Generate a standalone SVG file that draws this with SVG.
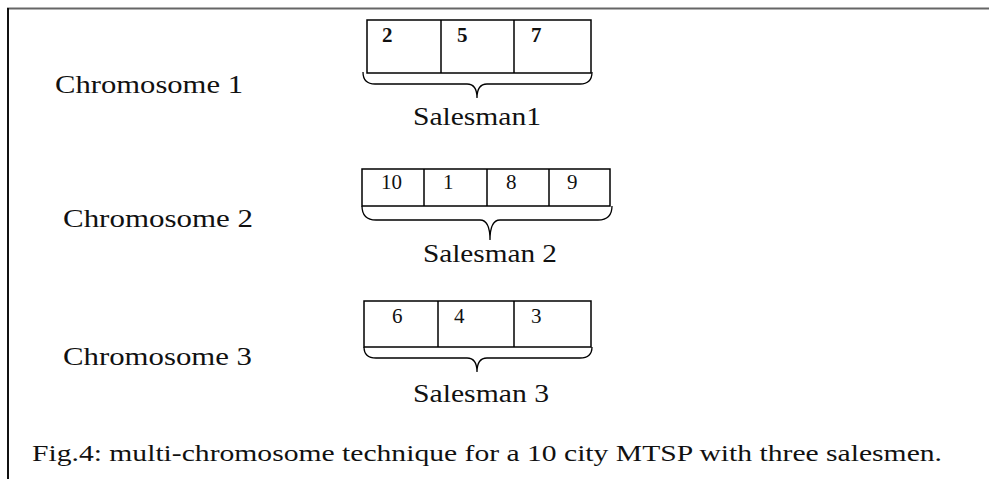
<svg xmlns="http://www.w3.org/2000/svg" width="989" height="479" viewBox="0 0 989 479">
<style>
.t{font-family:"Liberation Serif","Times New Roman",serif;fill:#111}
.lbl{font-size:25px}
.d{font-size:21px}
.b{font-weight:bold}
.cell{fill:#fff;stroke:#000;stroke-width:1.5}
.brace{fill:none;stroke:#000;stroke-width:1.3}
</style>
<rect width="989" height="479" fill="#fff"/>
<line x1="7" y1="8.5" x2="989" y2="8.5" stroke="#666" stroke-width="2"/>
<line x1="8" y1="8" x2="8" y2="479" stroke="#111" stroke-width="2"/>

<g id="labels">
<text class="t lbl" x="55" y="93" textLength="188" lengthAdjust="spacingAndGlyphs">Chromosome 1</text>
<text class="t lbl" x="63" y="227" textLength="190" lengthAdjust="spacingAndGlyphs">Chromosome 2</text>
<text class="t lbl" x="63" y="365" textLength="189" lengthAdjust="spacingAndGlyphs">Chromosome 3</text>
</g>

<g id="chromosome1">
<rect class="cell" x="367" y="20" width="224" height="53"/>
<line class="cell" x1="441" y1="20" x2="441" y2="73"/>
<line class="cell" x1="514" y1="20" x2="514" y2="73"/>
<text class="t d b" x="382" y="42">2</text>
<text class="t d b" x="457" y="42">5</text>
<text class="t d b" x="531" y="42">7</text>
<path class="brace" d="M363,72 Q363,84 375,84 L467,84 Q477,84 477,98 Q477,84 487,84 L580,84 Q592,84 592,72"/>
<text class="t lbl" x="413" y="125" textLength="128" lengthAdjust="spacingAndGlyphs">Salesman1</text>
</g>

<g id="chromosome2">
<rect class="cell" x="362" y="169" width="248" height="37"/>
<line class="cell" x1="424" y1="169" x2="424" y2="206"/>
<line class="cell" x1="487" y1="169" x2="487" y2="206"/>
<line class="cell" x1="549" y1="169" x2="549" y2="206"/>
<text class="t d" x="381" y="189">10</text>
<text class="t d" x="443" y="189">1</text>
<text class="t d" x="506" y="189">8</text>
<text class="t d" x="567" y="189">9</text>
<path class="brace" d="M362,206 Q362,220 376,220 L480,220 Q490,220 490,240 Q490,220 500,220 L598,220 Q612,220 612,206"/>
<text class="t lbl" x="423" y="262" textLength="134" lengthAdjust="spacingAndGlyphs">Salesman 2</text>
</g>

<g id="chromosome3">
<rect class="cell" x="364" y="301" width="227" height="46"/>
<line class="cell" x1="438" y1="301" x2="438" y2="347"/>
<line class="cell" x1="514" y1="301" x2="514" y2="347"/>
<text class="t d" x="392" y="323">6</text>
<text class="t d" x="454" y="323">4</text>
<text class="t d" x="531" y="323">3</text>
<path class="brace" d="M364,347 Q364,358 376,358 L467,358 Q477,358 477,372 Q477,358 487,358 L580,358 Q592,358 592,347"/>
<text class="t lbl" x="413" y="402" textLength="136" lengthAdjust="spacingAndGlyphs">Salesman 3</text>
</g>

<g id="connectors"></g>

<text class="t" x="32" y="461" font-size="24" textLength="910" lengthAdjust="spacingAndGlyphs">Fig.4: multi-chromosome technique for a 10 city MTSP with three salesmen.</text>
</svg>
